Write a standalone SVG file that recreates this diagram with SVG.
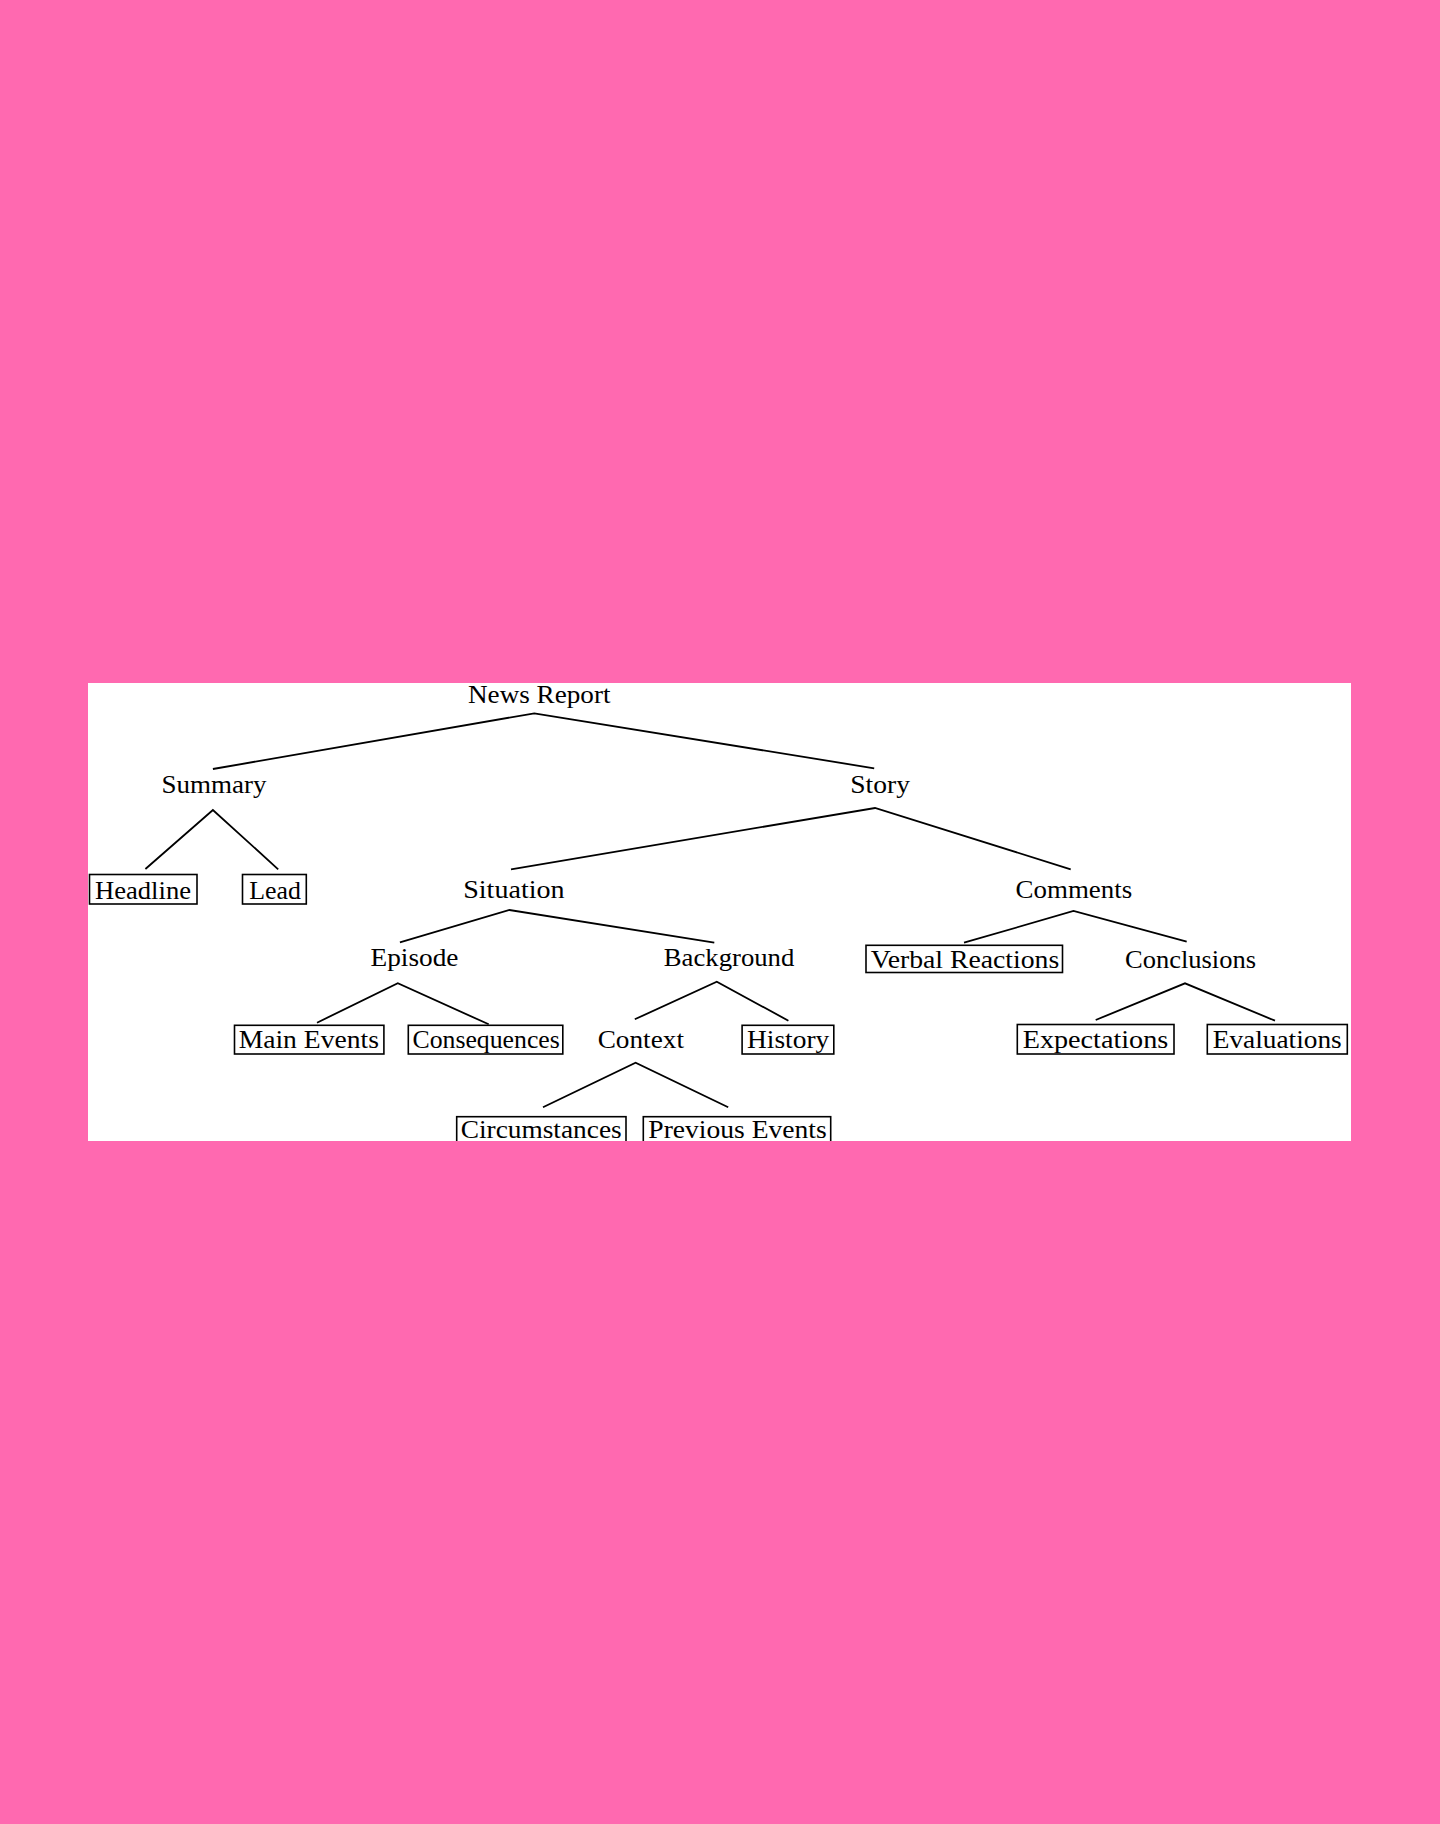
<svg xmlns="http://www.w3.org/2000/svg" width="1440" height="1824" viewBox="0 0 1440 1824">
<style>
text{font-family:"Liberation Serif","Times New Roman",serif;font-size:25px;fill:#000}
.e{fill:none;stroke:#000;stroke-width:1.8;stroke-linecap:butt}
.b{fill:none;stroke:#000;stroke-width:1.6}
</style>
<defs><clipPath id="page"><rect x="88" y="683" width="1263" height="458"/></clipPath></defs>
<rect width="1440" height="1824" fill="#FF69B0"/>
<rect x="88" y="683" width="1263" height="458" fill="#fff"/>
<g clip-path="url(#page)">
<g id="connectors">
<path class="e" d="M212.9 769 L534.3 713.3 L874.2 768.3"/>
<path class="e" d="M145.4 869 L212.9 810 L278.2 869.3"/>
<path class="e" d="M511 869.3 L875 808 L1070.7 869.3"/>
<path class="e" d="M399.9 942.3 L509.5 910 L714.3 942.7"/>
<path class="e" d="M964 942.7 L1073.5 911 L1186.7 941.7"/>
<path class="e" d="M317 1022.7 L397.8 983.3 L488.7 1024.3"/>
<path class="e" d="M634.8 1019.3 L716.8 981.7 L788.4 1020.7"/>
<path class="e" d="M1095.7 1020 L1185 983.3 L1275 1020.7"/>
<path class="e" d="M543 1107.3 L635.6 1062.7 L728.2 1107.3"/>
</g>
<g id="news-report"><text x="468" y="703.3" textLength="142.5" lengthAdjust="spacingAndGlyphs">News Report</text></g>
<g id="summary"><text x="161.4" y="792.7" textLength="105" lengthAdjust="spacingAndGlyphs">Summary</text></g>
<g id="story"><text x="850.3" y="792.7" textLength="59.7" lengthAdjust="spacingAndGlyphs">Story</text></g>
<g id="headline"><rect class="b" x="89.5" y="874.5" width="107.5" height="29.5"/><text x="95" y="898.8" textLength="96" lengthAdjust="spacingAndGlyphs">Headline</text></g>
<g id="lead"><rect class="b" x="242.5" y="874.5" width="63.8" height="29.5"/><text x="249.3" y="898.8" textLength="51.7" lengthAdjust="spacingAndGlyphs">Lead</text></g>
<g id="situation"><text x="463.2" y="898.3" textLength="101.4" lengthAdjust="spacingAndGlyphs">Situation</text></g>
<g id="comments"><text x="1015.6" y="898.3" textLength="116.6" lengthAdjust="spacingAndGlyphs">Comments</text></g>
<g id="episode"><text x="370.5" y="966" textLength="87.9" lengthAdjust="spacingAndGlyphs">Episode</text></g>
<g id="background"><text x="663.8" y="966" textLength="130.5" lengthAdjust="spacingAndGlyphs">Background</text></g>
<g id="verbal-reactions"><rect class="b" x="866" y="945.3" width="196.5" height="27.2"/><text x="870.7" y="968.3" textLength="188.6" lengthAdjust="spacingAndGlyphs">Verbal Reactions</text></g>
<g id="conclusions"><text x="1125" y="968.3" textLength="131" lengthAdjust="spacingAndGlyphs">Conclusions</text></g>
<g id="main-events"><rect class="b" x="234.5" y="1025.3" width="149.4" height="28.7"/><text x="238.7" y="1048.3" textLength="140.2" lengthAdjust="spacingAndGlyphs">Main Events</text></g>
<g id="consequences"><rect class="b" x="408.3" y="1025.3" width="154.5" height="28.7"/><text x="412.5" y="1048.3" textLength="147.3" lengthAdjust="spacingAndGlyphs">Consequences</text></g>
<g id="context"><text x="597.7" y="1048.3" textLength="86.3" lengthAdjust="spacingAndGlyphs">Context</text></g>
<g id="history"><rect class="b" x="742.1" y="1025.3" width="91.7" height="28.7"/><text x="747" y="1048.3" textLength="82.2" lengthAdjust="spacingAndGlyphs">History</text></g>
<g id="expectations"><rect class="b" x="1017.3" y="1024.5" width="156.7" height="29.5"/><text x="1022.7" y="1048.3" textLength="145.6" lengthAdjust="spacingAndGlyphs">Expectations</text></g>
<g id="evaluations"><rect class="b" x="1207.3" y="1024.5" width="140" height="29.5"/><text x="1212.7" y="1048.3" textLength="129" lengthAdjust="spacingAndGlyphs">Evaluations</text></g>
<g id="circumstances"><rect class="b" x="456.7" y="1116.7" width="169.3" height="29"/><text x="460.7" y="1138.3" textLength="161" lengthAdjust="spacingAndGlyphs">Circumstances</text></g>
<g id="previous-events"><rect class="b" x="643.3" y="1116.7" width="187.4" height="29"/><text x="648.3" y="1138.3" textLength="178.4" lengthAdjust="spacingAndGlyphs">Previous Events</text></g>
</g>
</svg>
